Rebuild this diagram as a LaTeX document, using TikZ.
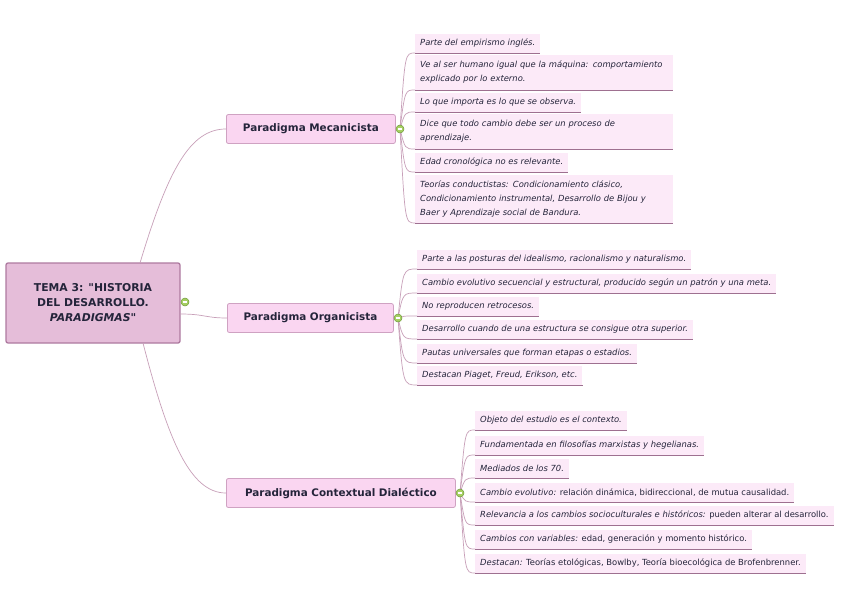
\documentclass[tikz,border=0pt]{standalone}
\usepackage{fontspec}
\setmainfont{DejaVu Sans}[Ligatures=TeXOff]
\definecolor{rootfill}{HTML}{E5BDD9}
\definecolor{rootborder}{HTML}{AE7AA0}
\definecolor{mainfill}{HTML}{FAD6F1}
\definecolor{mainborder}{HTML}{CFA2C2}
\definecolor{leaffill}{HTML}{FCEAF8}
\definecolor{leafline}{HTML}{9E7090}
\definecolor{conn}{HTML}{C8A0B9}
\definecolor{txt}{HTML}{24243A}
\definecolor{knobfill}{HTML}{A6CF62}
\definecolor{knobline}{HTML}{6F9A3A}
\begin{document}
\begin{tikzpicture}[x=1pt,y=-1pt,
  rootbox/.style={draw=rootborder, line width=1.3pt, fill=rootfill, rounded corners=2pt,
    minimum width=174pt, minimum height=80pt, align=center, text=txt,
    font=\bfseries\fontsize{10.8}{15}\selectfont},
  mainbox/.style={draw=mainborder, line width=0.8pt, fill=mainfill, rounded corners=2pt,
    minimum height=29pt, anchor=west, text=txt, font=\bfseries\fontsize{10.4}{12}\selectfont},
  leaf/.style={fill=leaffill, anchor=south west, align=left, inner xsep=5pt, inner ysep=3pt,
    minimum height=19pt, text=txt, font=\itshape\fontsize{8.4}{14}\selectfont,
    append after command={(\tikzlastnode.south west) edge[draw=leafline, line width=0.7pt] (\tikzlastnode.south east)}},
  leaftwo/.style={leaf, minimum height=35pt, text width=248pt},
  leafthree/.style={leaf, minimum height=48pt, text width=248pt},
  conn/.style={draw=conn, line width=0.7pt},
  knob/.style={circle, draw=knobline, fill=knobfill, line width=0.5pt, inner sep=0pt, minimum size=8pt,
    path picture={\draw[white, line width=1.1pt] ([xshift=-2.4pt]path picture bounding box.center) -- ([xshift=2.4pt]path picture bounding box.center);}}
]
\useasboundingbox[fill=white] (0,0) rectangle (848,599);

% root
\node[rootbox] (root) at (93,303) {TEMA 3: "HISTORIA\\DEL DESARROLLO.\\\textit{PARADIGMAS}"};

% main topics
\node[mainbox, minimum width=169pt] (mec) at (226,129) {Paradigma Mecanicista};
\node[mainbox, minimum width=166pt] (org) at (227,318) {Paradigma Organicista};
\node[mainbox, minimum width=229pt] (ctx) at (226,493) {Paradigma Contextual Dialéctico};

% root connectors
\coordinate (rtop) at (140,263);
\coordinate (rright) at (180,314);
\coordinate (rbot) at (143,343);
\draw[conn] (rtop) .. controls (168,170) and (190,129) .. (mec.west);
\draw[conn] (rright) .. controls (205,314) and (205,318) .. (org.west);
\draw[conn] (rbot) .. controls (168,440) and (190,493) .. (ctx.west);

% Mecanicista leaves
\node[leaf] (m1) at (415,53) {Parte del empirismo inglés.};
\node[leaftwo] (m2) at (415,90) {Ve al ser humano igual que la máquina: comportamiento\\explicado por lo externo.};
\node[leaf] (m3) at (415,112) {Lo que importa es lo que se observa.};
\node[leaftwo] (m4) at (415,149) {Dice que todo cambio debe ser un proceso de\\aprendizaje.};
\node[leaf] (m5) at (415,172) {Edad cronológica no es relevante.};
\node[leafthree] (m6) at (415,223) {Teorías conductistas: Condicionamiento clásico,\\Condicionamiento instrumental, Desarrollo de Bijou y\\Baer y Aprendizaje social de Bandura.};

% Organicista leaves
\node[leaf] (o1) at (417,269) {Parte a las posturas del idealismo, racionalismo y naturalismo.};
\node[leaf] (o2) at (417,293) {Cambio evolutivo secuencial y estructural, producido según un patrón y una meta.};
\node[leaf] (o3) at (417,316) {No reproducen retrocesos.};
\node[leaf] (o4) at (417,339) {Desarrollo cuando de una estructura se consigue otra superior.};
\node[leaf] (o5) at (417,363) {Pautas universales que forman etapas o estadios.};
\node[leaf] (o6) at (417,385) {Destacan Piaget, Freud, Erikson, etc.};

% Contextual leaves
\node[leaf] (c1) at (475,430) {Objeto del estudio es el contexto.};
\node[leaf] (c2) at (475,455) {Fundamentada en filosofías marxistas y hegelianas.};
\node[leaf] (c3) at (475,478) {Mediados de los 70.};
\node[leaf] (c4) at (475,502) {Cambio evolutivo: \textup{relación dinámica, bidireccional, de mutua causalidad.}};
\node[leaf] (c5) at (475,525) {Relevancia a los cambios socioculturales e históricos: \textup{pueden alterar al desarrollo.}};
\node[leaf] (c6) at (475,549) {Cambios con variables: \textup{edad, generación y momento histórico.}};
\node[leaf] (c7) at (475,573) {Destacan: \textup{Teorías etológicas, Bowlby, Teoría bioecológica de Brofenbrenner.}};

% knob anchor points (just right of each parent)
\coordinate (km) at (405,129);
\coordinate (ko) at (403,318);
\coordinate (kc) at (465,493);

\foreach \l in {m1,m2,m3,m4,m5,m6}
  \draw[conn] ([xshift=-5pt]km) .. controls (km |- \l.south west) .. (\l.south west);
\foreach \l in {o1,o2,o3,o4,o5,o6}
  \draw[conn] ([xshift=-5pt]ko) .. controls (ko |- \l.south west) .. (\l.south west);
\foreach \l in {c1,c2,c3,c4,c5,c6,c7}
  \draw[conn] ([xshift=-5pt]kc) .. controls (kc |- \l.south west) .. (\l.south west);

% collapse knobs
\node[knob] (kroot) at (185,302) {};
\node[knob] (kmec) at (400,129) {};
\node[knob] (korg) at (398,318) {};
\node[knob] (kctx) at (460,493) {};
\end{tikzpicture}
\end{document}
